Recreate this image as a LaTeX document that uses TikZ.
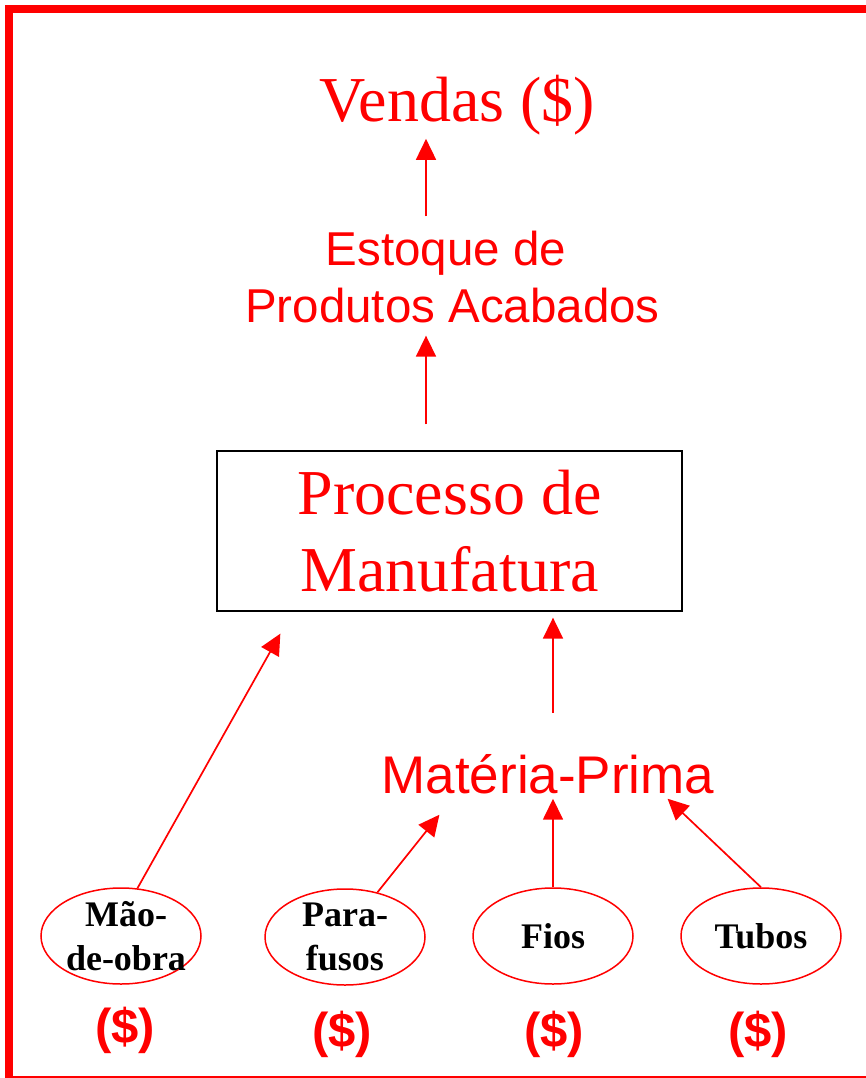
\documentclass[tikz,border=0pt]{standalone}
\usepackage{fontspec}
\setmainfont{Liberation Serif}
\setsansfont{Liberation Sans}
\usetikzlibrary{arrows.meta,shapes.geometric}

\begin{document}
\begin{tikzpicture}[x=1pt,y=-1pt,
  arr/.style={red,line width=1.7pt,-{Triangle[width=20pt,length=21pt]}},
  bigserif/.style={text=red,inner sep=0pt,align=center,font=\fontsize{64}{77}\selectfont},
  bigsans/.style={text=red,inner sep=0pt,align=center,font=\sffamily\fontsize{47.5}{57}\selectfont},
  oval/.style={ellipse,draw=red,line width=1.5pt,minimum width=160pt,minimum height=96pt,inner sep=-14pt,align=center,font=\bfseries\fontsize{36}{44}\selectfont},
  price/.style={text=red,inner sep=0pt,font=\sffamily\bfseries\fontsize{49}{58}\selectfont}]

\useasboundingbox (0,0) rectangle (866,1078);

% frame
\draw[red,line width=8pt] (9,1078) -- (9,9) -- (866,9);
\draw[red,line width=1.5pt] (9,1077) -- (866,1077);

% upper chain
\node[bigserif,anchor=base] (vendas) at (457.5,122) {Vendas (\$)};
\node[bigsans,anchor=base] (estoque) at (452.5,322) {Estoque de\kern.28em\\Produtos Acabados};
\node[bigserif,draw=black,line width=1.3pt,minimum width=465pt,minimum height=160pt] (processo) at (449.5,531) {Processo de\\Manufatura};
\node[bigsans,font=\sffamily\fontsize{53}{60}\selectfont,anchor=base] (materia) at (548,793) {Matéria-Prima};

% inputs
\node[oval] (mao) at (121,936) {\kern10pt Mão-\\\kern10pt de-obra};
\node[oval] (para) at (345,937) {Para-\\fusos};
\node[oval] (fios) at (553,936) {Fios};
\node[oval] (tubos) at (761,936) {Tubos};

\node[price,anchor=base] (maoval) at (125,1043) {(\$)};
\node[price,anchor=base] (paraval) at (342,1047) {(\$)};
\node[price,anchor=base] (fiosval) at (554,1047) {(\$)};
\node[price,anchor=base] (tubosval) at (758,1047) {(\$)};

% arrows
\coordinate (axis) at (426,0);
\draw[arr,shorten <=14pt,shorten >=3pt] (estoque.north -| axis) -- (vendas.south -| axis);
\draw[arr,shorten <=26pt,shorten >=13pt] (processo.north -| axis) -- (estoque.south -| axis);
\draw[arr,shorten <=41pt,shorten >=6pt] (materia.north -| fios) -- (processo.south -| fios);
\draw[arr] (mao.71) -- ([xshift=64pt,yshift=-22pt]processo.south west);
\draw[arr] (para.54) -- ([xshift=58pt,yshift=-21pt]materia.south west);
\draw[arr,shorten >=5pt] (fios.north) -- (materia.south -| fios);
\draw[arr] (tubos.north) -- ([xshift=-47pt,yshift=-5pt]materia.south east);
\end{tikzpicture}
\end{document}
